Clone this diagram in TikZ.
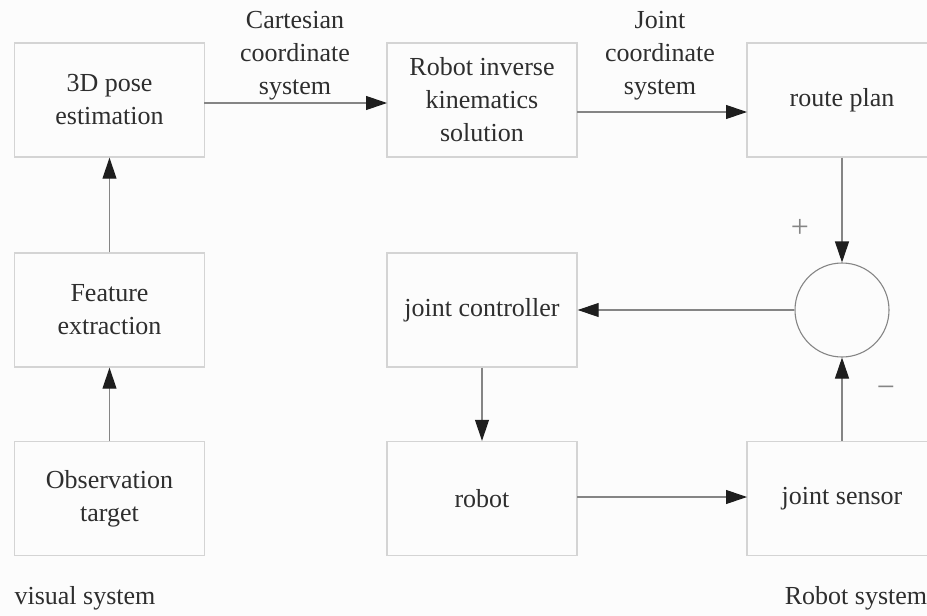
\documentclass[tikz,border=0pt]{standalone}
\usepackage{fontspec}
\setmainfont{Liberation Serif}
\usetikzlibrary{arrows.meta}
\definecolor{boxc}{HTML}{D4D4D4}
\definecolor{linec}{HTML}{858585}
\definecolor{tipc}{HTML}{1E1E1E}
\definecolor{txtc}{HTML}{2E2E2E}
\definecolor{bgc}{HTML}{FCFCFC}
\begin{document}
\begin{tikzpicture}[x=1pt,y=-1pt,
  every node/.style={font=\fontsize{26}{33}\selectfont, text=txtc, inner sep=0pt},
  blk/.style={draw=boxc, line width=1.4pt, minimum width=190pt, minimum height=114pt, align=center},
  conn/.style={draw=linec, line width=1.1pt, -{Triangle[length=21pt,width=14pt,fill=tipc,color=tipc]}},
  lbl/.style={align=center},
  sign/.style={font=\fontsize{32}{32}\selectfont, text=linec}]
\useasboundingbox (0,0) rectangle (927,616);
\fill[bgc] (0,0) rectangle (927,616);
\clip (0,0) rectangle (927,616);
\node[blk] (pose) at (109.5,100) {3D pose\\estimation};
\node[blk] (feat) at (109.5,310) {Feature\\extraction};
\node[blk] (obs) at (109.5,498.5) {Observation\\target};
\node[blk] (ik) at (482,100) {Robot inverse\\kinematics\\solution};
\node[blk] (ctrl) at (482,310) {joint controller};
\node[blk] (robot) at (482,498.5) {robot};
\node[blk] (route) at (842,100) {route plan};
\node[blk] (sensor) at (842,498.5) {joint sensor};
\node[draw=linec, line width=1.1pt, circle, minimum size=94pt] (sum) at (842,310) {};
\coordinate (a1) at (204,103);
\coordinate (a2) at (387,103);
\coordinate (b1) at (577,112);
\coordinate (b2) at (747,112);
\draw[conn] (a1) -- (a2);
\draw[conn] (b1) -- (b2);
\draw[conn] (obs.north) -- (feat.south);
\draw[conn] (feat.north) -- (pose.south);
\draw[conn] (route.south) -- (sum.north);
\draw[conn] (sensor.north) -- (sum.south);
\draw[conn] (sum.west) -- (ctrl.east);
\draw[conn] (ctrl.south) -- (robot.north);
\coordinate (c1) at (577,497);
\coordinate (c2) at (747,497);
\draw[conn] (c1) -- (c2);
\node[lbl] (lcart) at (295,56) {Cartesian\\coordinate\\system};
\node[lbl] (ljoint) at (660,56) {Joint\\coordinate\\system};
\node[sign] (plus) at (800,228) {+};
\node[sign] (minus) at (886,392) {\textminus};
\node (vis) at (85,598) {visual system};
\node (rob) at (856,598) {Robot system};
\end{tikzpicture}
\end{document}
